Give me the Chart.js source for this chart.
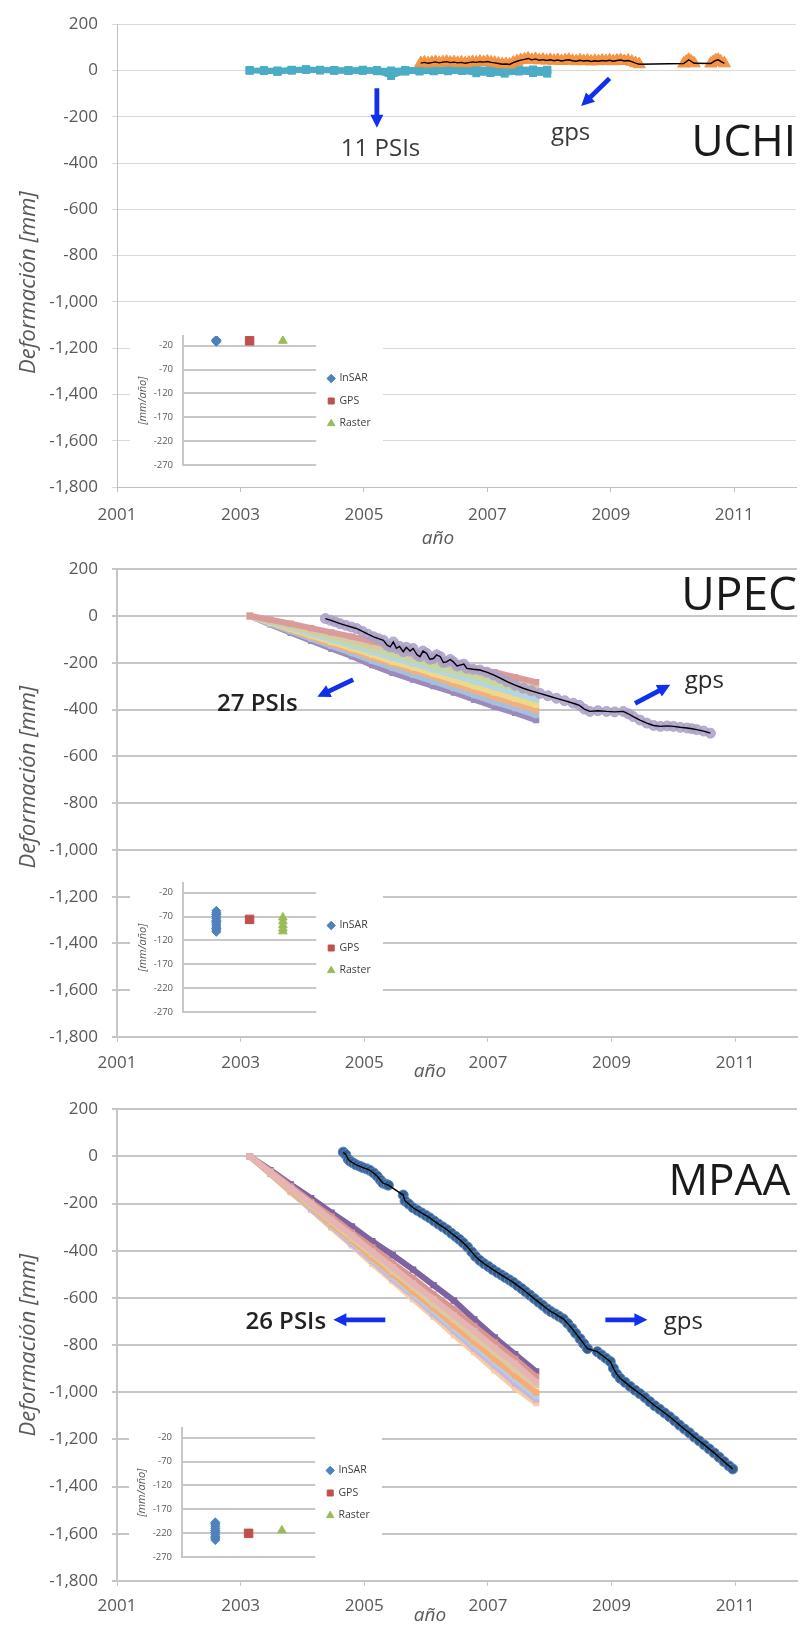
<!DOCTYPE html>
<html>
<head>
<meta charset="utf-8">
<script src="https://cdn.jsdelivr.net/npm/chart.js@4.4.1/dist/chart.umd.min.js"></script>
<style>
  html, body { margin: 0; padding: 0; background: #fff; }
  #page { position: relative; width: 804px; height: 1625px; overflow: hidden; background: #fff; }
  .panel { position: absolute; left: 0; width: 804px; }
  .panel canvas, .inset canvas { display: block; }
  .inset { position: absolute; width: 253px; height: 166px; background: #fff; }
</style>
</head>
<body>
<div id="page">
  <div class="panel" style="top:0;height:545px"><canvas id="cUchi" width="804" height="545"></canvas></div>
  <div class="panel" style="top:545px;height:540px"><canvas id="cUpec" width="804" height="540"></canvas></div>
  <div class="panel" style="top:1085px;height:540px"><canvas id="cMpaa" width="804" height="540"></canvas></div>
  <div class="inset" style="left:130px;top:315px"><canvas id="iUchi" width="253" height="166"></canvas></div>
  <div class="inset" style="left:130px;top:862px"><canvas id="iUpec" width="253" height="166"></canvas></div>
  <div class="inset" style="left:129px;top:1407px"><canvas id="iMpaa" width="253" height="166"></canvas></div>
</div>
<script>
// ---- axis ticks -------------------------------------------------------
const yearTicks = [2001, 2003, 2005, 2007, 2009, 2011];
const rateTicks = [-270, -220, -170, -120, -70, -20];

// ---- UCHI: PSI time series (mm) ---------------------------------------
const uchiPsiDates = [2003.15, 2003.38, 2003.60, 2003.83, 2004.06, 2004.29, 2004.52, 2004.75, 2004.98, 2005.21, 2005.44,
                      2005.67, 2005.90, 2006.13, 2006.36, 2006.59, 2006.82, 2007.05, 2007.28, 2007.51, 2007.74, 2007.97];
const uchiPsi = [
  [0, -2, -5, 2, 4, 1, 0, -1, 1, 0, -3, 0, 2, 1, 0, 2, 1, 3, 2, 1, 3, 2],
  [0, 1, -3, 4, 6, 3, 2, 1, 0, -2, -24, -4, -1, -2, 0, -1, -3, -2, -1, -2, 0, -1],
  [0, -1, -6, 1, 3, 2, -1, -3, -2, -4, -6, -5, -3, -4, -2, -3, -12, -11, -13, -5, -10, -12],
  [0, 2, 0, 3, 5, 4, 3, 2, 4, 2, 0, 3, 4, 3, 5, 4, 6, 5, 4, 6, 5, 4],
  [0, -3, -4, -1, 2, 0, -2, -2, -1, -3, -8, -2, -5, -3, -4, -2, -4, -10, -12, -3, -11, -13],
  [0, 0, -2, 1, 3, 1, 1, 0, 2, 1, -2, 1, 0, -1, 1, 0, 1, 0, -1, 0, 2, 1]
];
// ---- UCHI: GPS (mm) ---------------------------------------------------
const uchiGpsYears = [2005.92, 2005.98, 2006.04, 2006.10, 2006.16, 2006.22, 2006.28, 2006.34, 2006.40, 2006.46, 2006.52,
  2006.58, 2006.64, 2006.70, 2006.76, 2006.82, 2006.88, 2006.94, 2007.00, 2007.06, 2007.12, 2007.18, 2007.24, 2007.30,
  2007.36, 2007.42, 2007.48, 2007.54, 2007.60, 2007.66, 2007.72, 2007.78, 2007.84, 2007.90, 2007.96, 2008.02, 2008.08,
  2008.14, 2008.20, 2008.26, 2008.32, 2008.38, 2008.44, 2008.50, 2008.56, 2008.62, 2008.68, 2008.74, 2008.80, 2008.86,
  2008.92, 2008.98, 2009.04, 2009.10, 2009.16, 2009.22, 2009.28, 2009.34, 2009.40, 2009.46,
  2010.18, 2010.22, 2010.26, 2010.30, 2010.35,
  2010.62, 2010.66, 2010.70, 2010.74, 2010.78, 2010.84];
const uchiGpsMm = [32, 35, 31, 34, 37, 33, 36, 38, 34, 36, 33,
  35, 31, 34, 37, 35, 38, 36, 39, 35, 33, 30, 27, 28,
  26, 34, 40, 45, 48, 52, 46, 50, 44, 47, 43, 46, 42,
  45, 41, 44, 46, 42, 40, 44, 41, 43, 39, 42, 40, 43,
  41, 44, 40, 43, 45, 41, 43, 38, 32, 27,
  30, 38, 46, 40, 31,
  30, 37, 44, 46, 39, 31];
// ---- UCHI: velocities (mm/año) ----------------------------------------
const uchiRateInsar = [-8, -10, -12, -9];
const uchiRateGps = [-10];
const uchiRateRaster = [-10];

// ---- UPEC / MPAA: PSI acquisition dates -------------------------------
const psiDates = [2003.15, 2003.48, 2003.81, 2004.14, 2004.47, 2004.80, 2005.13, 2005.46, 2005.79, 2006.12, 2006.45,
                  2006.78, 2007.11, 2007.44, 2007.78];
// ---- UPEC: PSI time series (mm) ---------------------------------------
const upecPsi = [
  [0, -16, -33, -52, -70, -88, -108, -130, -152, -178, -202, -226, -240, -262, -283],
  [0, -21, -40, -62, -82, -104, -126, -147, -171, -193, -216, -240, -262, -285, -309],
  [0, -23, -46, -69, -92, -116, -139, -163, -187, -214, -236, -258, -286, -307, -333],
  [0, -26, -51, -77, -101, -127, -152, -178, -203, -228, -253, -279, -304, -330, -356],
  [0, -28, -55, -83, -110, -137, -165, -195, -219, -246, -273, -300, -327, -353, -380],
  [0, -30, -59, -89, -118, -147, -177, -205, -233, -258, -290, -318, -347, -374, -402],
  [0, -33, -65, -97, -128, -159, -192, -222, -252, -280, -308, -338, -368, -394, -424],
  [0, -36, -72, -106, -140, -172, -210, -243, -272, -300, -327, -358, -388, -414, -445]
];
// ---- UPEC: GPS (mm) ---------------------------------------------------
const upecGpsYears = [2004.37, 2004.45, 2004.53, 2004.61, 2004.70, 2004.79, 2004.88, 2004.97, 2005.06, 2005.15, 2005.23,
  2005.31, 2005.37, 2005.42, 2005.47, 2005.52, 2005.57, 2005.63, 2005.68, 2005.74, 2005.79, 2005.85, 2005.90, 2005.95,
  2006.01, 2006.06, 2006.12, 2006.17, 2006.23, 2006.28, 2006.33, 2006.39, 2006.44, 2006.50, 2006.55, 2006.61, 2006.66,
  2006.76, 2006.87, 2006.98, 2007.09, 2007.20, 2007.31, 2007.44, 2007.57, 2007.70, 2007.84, 2007.97, 2008.11, 2008.24,
  2008.38, 2008.48, 2008.56, 2008.65, 2008.78, 2008.92, 2009.05, 2009.19, 2009.27, 2009.35, 2009.46, 2009.57, 2009.68,
  2009.79, 2009.90, 2010.00, 2010.11, 2010.22, 2010.30, 2010.38, 2010.49, 2010.60];
const upecGpsMm = [-11, -18, -25, -33, -40, -47, -54, -66, -78, -89, -97,
  -104, -125, -132, -111, -138, -130, -153, -134, -150, -139, -165, -174, -150,
  -160, -185, -182, -166, -174, -199, -196, -186, -196, -214, -210, -206, -224,
  -228, -231, -240, -252, -266, -281, -296, -309, -320, -331, -341, -352, -362,
  -373, -382, -398, -408, -405, -408, -410, -408, -418, -430, -445, -458, -468,
  -472, -470, -472, -476, -479, -482, -486, -492, -501];
// ---- UPEC: velocities (mm/año) ----------------------------------------
const upecRateInsar = [-58, -62, -66, -70, -74, -78, -82, -86, -90, -94, -98, -102, -65, -80, -95];
const upecRateGps = [-76];
const upecRateRaster = [-72, -80, -88, -95, -101];

// ---- MPAA: PSI time series (mm) ---------------------------------------
const mpaaPsi = [
  [0, -67, -135, -200, -269, -335, -404, -470, -539, -605, -674, -741, -813, -879, -956],
  [0, -63, -127, -194, -256, -323, -386, -453, -516, -585, -649, -720, -789, -859, -934],
  [0, -69, -137, -208, -276, -347, -414, -486, -553, -625, -692, -764, -831, -903, -971],
  [0, -71, -144, -213, -287, -356, -430, -499, -573, -642, -716, -786, -859, -929, -1001],
  [0, -72, -146, -217, -292, -362, -437, -508, -583, -653, -728, -799, -873, -944, -1016],
  [0, -74, -147, -223, -295, -371, -443, -519, -591, -667, -739, -815, -887, -963, -1031],
  [0, -75, -152, -225, -303, -377, -454, -528, -605, -679, -756, -830, -907, -980, -1046],
  [0, -58, -119, -177, -239, -297, -360, -418, -480, -546, -611, -691, -768, -839, -912]
];
// ---- MPAA: GPS (mm) ---------------------------------------------------
const mpaaGpsYears = [2004.66, 2004.70, 2004.74, 2004.77, 2004.82, 2004.87, 2004.93, 2004.98, 2005.04, 2005.09, 2005.15,
  2005.21, 2005.26, 2005.30, 2005.35, 2005.39, 2005.63, 2005.66, 2005.72, 2005.79, 2005.86, 2005.93, 2006.00, 2006.06,
  2006.13, 2006.20, 2006.27, 2006.34, 2006.41, 2006.48, 2006.54, 2006.60, 2006.67, 2006.74, 2006.80, 2006.87, 2006.94,
  2007.01, 2007.08, 2007.15, 2007.22, 2007.28, 2007.35, 2007.41, 2007.48, 2007.55, 2007.61, 2007.68, 2007.75, 2007.82,
  2007.89, 2007.96, 2008.02, 2008.09, 2008.15, 2008.22, 2008.29, 2008.36, 2008.42, 2008.49, 2008.55, 2008.61, 2008.77,
  2008.84, 2008.91, 2008.98, 2009.03, 2009.08, 2009.14, 2009.22, 2009.30, 2009.38, 2009.46, 2009.54, 2009.62, 2009.70,
  2009.78, 2009.86, 2009.94, 2010.02, 2010.10, 2010.18, 2010.26, 2010.34, 2010.42, 2010.50, 2010.58, 2010.66, 2010.74,
  2010.82, 2010.90, 2010.96];
const mpaaGpsMm = [18, 8, -12, -20, -28, -36, -42, -48, -53, -59, -70,
  -84, -100, -113, -118, -122, -164, -189, -202, -218, -229, -240, -251, -261,
  -274, -287, -299, -311, -326, -340, -352, -366, -384, -405, -424, -441, -455,
  -467, -480, -492, -503, -513, -524, -534, -548, -561, -574, -588, -603, -618,
  -632, -647, -658, -668, -678, -689, -708, -729, -750, -773, -794, -815, -828,
  -842, -856, -870, -898, -922, -941, -958, -975, -991, -1006, -1022, -1040, -1057,
  -1072, -1088, -1104, -1121, -1139, -1156, -1172, -1190, -1206, -1223, -1240, -1257, -1275,
  -1294, -1312, -1325];
// ---- MPAA: velocities (mm/año) ----------------------------------------
const mpaaRateInsar = [-197, -202, -206, -210, -214, -218, -222, -226, -230, -234, -200, -215, -228];
const mpaaRateGps = [-220];
const mpaaRateRaster = [-214];

// ---- styles -----------------------------------------------------------
const FONT = "'Open Sans', 'DejaVu Sans', sans-serif";
Chart.defaults.font.family = FONT;
const tickGrey = '#595959';
const upecPsiColors = ['#da9c9a', '#d6c9a3', '#c5d89e', '#b3d5e5', '#eed98a', '#f2b07f', '#a6bfdd', '#9d8abd'];
const mpaaPsiColors = ['#e6b5b3', '#d9958f', '#dccaa6', '#f7ad72', '#b7cce6', '#c6b7db', '#f9cda4', '#7e63a0'];

const pts = (xs, ys) => xs.map((x, i) => ({ x, y: ys[i] }));

// Annotations, arrows and axis titles drawn on the main charts
const notesPlugin = {
  id: 'notes',
  afterDatasetsDraw(chart, args, o) {
    if (!o || (!o.texts && !o.arrows)) return;
    const { ctx } = chart;
    const sx = chart.scales.x, sy = chart.scales.y;
    ctx.save();
    for (const a of o.arrows || []) {
      const x1 = sx.getPixelForValue(a.from[0]), y1 = sy.getPixelForValue(a.from[1]);
      const x2 = sx.getPixelForValue(a.to[0]), y2 = sy.getPixelForValue(a.to[1]);
      const ang = Math.atan2(y2 - y1, x2 - x1), len = Math.hypot(x2 - x1, y2 - y1);
      const hl = 13, hw = 6.5, sw = 2.4;
      ctx.save();
      ctx.translate(x1, y1);
      ctx.rotate(ang);
      ctx.beginPath();
      ctx.moveTo(0, -sw); ctx.lineTo(len - hl, -sw); ctx.lineTo(len - hl, -hw);
      ctx.lineTo(len, 0); ctx.lineTo(len - hl, hw); ctx.lineTo(len - hl, sw); ctx.lineTo(0, sw);
      ctx.closePath();
      ctx.fillStyle = '#1030ee';
      ctx.fill();
      ctx.restore();
    }
    for (const t of o.texts || []) {
      ctx.font = `${t.weight || 400} ${t.size}px ${FONT}`;
      ctx.fillStyle = t.color || '#333';
      ctx.textAlign = t.align || 'center';
      ctx.textBaseline = 'alphabetic';
      ctx.fillText(t.text, sx.getPixelForValue(t.x), sy.getPixelForValue(t.y));
    }
    ctx.restore();
  },
  afterDraw(chart, args, o) {
    if (!o || !o.yTitle) return;
    const { ctx, chartArea } = chart;
    ctx.save();
    ctx.fillStyle = tickGrey;
    ctx.textAlign = 'center';
    ctx.textBaseline = 'middle';
    ctx.font = `italic 22px ${FONT}`;
    ctx.translate(29, (chartArea.top + chartArea.bottom) / 2 + o.yTitle.shift);
    ctx.rotate(-Math.PI / 2);
    ctx.fillText(o.yTitle.text, 0, 0);
    ctx.restore();
    ctx.save();
    ctx.fillStyle = tickGrey;
    ctx.textAlign = 'center';
    ctx.textBaseline = 'middle';
    ctx.font = `italic 19px ${FONT}`;
    ctx.fillText(o.xTitle.text, chartArea.left + o.xTitle.dx, chartArea.bottom + o.xTitle.dy);
    ctx.restore();
  }
};
Chart.register(notesPlugin);

function psiDataset(xs, ys, color, width, radius) {
  return {
    data: pts(xs, ys), borderColor: color, backgroundColor: color, borderWidth: width,
    pointStyle: 'rect', pointRadius: radius, pointBorderWidth: 0, pointBackgroundColor: color, tension: 0
  };
}
function gpsMarkers(xs, ys, style, color, edge, radius) {
  return {
    data: pts(xs, ys), showLine: false, pointStyle: style, pointRadius: radius,
    pointBackgroundColor: color, pointBorderColor: edge, pointBorderWidth: 1
  };
}
function gpsLine(xs, ys) {
  return { data: pts(xs, ys), borderColor: '#000', borderWidth: 1.4, pointRadius: 0, tension: 0 };
}

function mainOptions(c) {
  return {
    responsive: false, animation: false, events: [],
    layout: { padding: { left: 0, right: 7, top: c.top, bottom: 0 } },
    plugins: { legend: { display: false }, tooltip: { enabled: false }, notes: c.notes },
    scales: {
      x: {
        type: 'linear', min: 2001, max: 2012,
        afterBuildTicks: a => { a.ticks = yearTicks.map(v => ({ value: v })); },
        afterFit: s => { s.height = c.xh; },
        grid: { drawOnChartArea: false, drawTicks: true, tickLength: 5, color: c.axis, lineWidth: 1 },
        border: { display: true, color: c.axis, width: c.gw },
        ticks: { padding: c.xpad, color: tickGrey, font: { size: 17 }, maxRotation: 0, autoSkip: false,
                 callback: v => String(v) }
      },
      y: {
        min: -1800, max: 200,
        ticks: { stepSize: 200, padding: 14, color: tickGrey, font: { size: 17 },
                 callback: v => Number(v).toLocaleString('en-US') },
        afterFit: s => { s.width = 117; },
        grid: { color: c.grid, lineWidth: c.gw, drawTicks: true, tickLength: 5 },
        border: { display: true, color: c.axis, width: c.gw }
      }
    }
  };
}

// ---- UCHI -------------------------------------------------------------
new Chart(document.getElementById('cUchi'), {
  type: 'line',
  data: {
    datasets: [
      gpsLine(uchiGpsYears, uchiGpsMm),
      gpsMarkers(uchiGpsYears, uchiGpsMm, 'triangle', '#f79646', '#f39040', 7),
      ...uchiPsi.map(r => psiDataset(uchiPsiDates, r, '#4bacc6', 5, 5.5))
    ]
  },
  options: mainOptions({
    top: 20, xh: 58, xpad: 13, gw: 1, grid: '#d9d9d9', axis: '#bfbfbf',
    notes: {
      yTitle: { text: 'Deformación [mm]', shift: 27 },
      xTitle: { text: 'año', dx: 321, dy: 52 },
      texts: [
        { text: '11 PSIs', x: 2005.27, y: -368, size: 24, color: '#3a3a3a' },
        { text: 'gps', x: 2008.35, y: -300, size: 24, color: '#3a3a3a' },
        { text: 'UCHI', x: 2012, y: -368, size: 44, align: 'right', color: '#1a1a1a' }
      ],
      arrows: [
        { from: [2005.21, -77], to: [2005.21, -248] },
        { from: [2008.98, -34], to: [2008.52, -154] }
      ]
    }
  })
});

// ---- UPEC -------------------------------------------------------------
new Chart(document.getElementById('cUpec'), {
  type: 'line',
  data: {
    datasets: [
      gpsLine(upecGpsYears, upecGpsMm),
      gpsMarkers(upecGpsYears, upecGpsMm, 'circle', 'rgba(172,160,200,0.85)', 'rgba(172,160,200,0.85)', 5),
      ...upecPsi.map((r, i) => psiDataset(psiDates, r, upecPsiColors[i], 6, 4.5))
    ]
  },
  options: mainOptions({
    top: 22, xh: 48, xpad: 11, gw: 2, grid: '#c6c6c6', axis: '#c6c6c6',
    notes: {
      yTitle: { text: 'Deformación [mm]', shift: -26 },
      xTitle: { text: 'año', dx: 313, dy: 35 },
      texts: [
        { text: 'UPEC', x: 2012, y: 26, size: 46, align: 'right', color: '#1a1a1a' },
        { text: '27 PSIs', x: 2003.27, y: -408, size: 24, weight: 600, color: '#222' },
        { text: 'gps', x: 2010.5, y: -306, size: 24, color: '#2a2a2a' }
      ],
      arrows: [
        { from: [2004.82, -272], to: [2004.24, -345] },
        { from: [2009.38, -374], to: [2009.95, -294] }
      ]
    }
  })
});

// ---- MPAA -------------------------------------------------------------
new Chart(document.getElementById('cMpaa'), {
  type: 'line',
  data: {
    datasets: [
      gpsLine(mpaaGpsYears, mpaaGpsMm),
      gpsMarkers(mpaaGpsYears, mpaaGpsMm, 'circle', '#35608f', '#5a86bb', 5),
      ...mpaaPsi.map((r, i) => psiDataset(psiDates, r, mpaaPsiColors[i], 6, 4.5))
    ]
  },
  options: mainOptions({
    top: 20, xh: 44, xpad: 10, gw: 2, grid: '#c6c6c6', axis: '#c6c6c6',
    notes: {
      yTitle: { text: 'Deformación [mm]', shift: 0 },
      xTitle: { text: 'año', dx: 313, dy: 35 },
      texts: [
        { text: 'MPAA', x: 2011.89, y: -164, size: 44, align: 'right', color: '#1a1a1a' },
        { text: '26 PSIs', x: 2003.73, y: -731, size: 24, weight: 600, color: '#222' },
        { text: 'gps', x: 2010.16, y: -731, size: 24, color: '#2a2a2a' }
      ],
      arrows: [
        { from: [2005.34, -693], to: [2004.5, -693] },
        { from: [2008.9, -693], to: [2009.58, -693] }
      ]
    }
  })
});

// ---- velocity insets --------------------------------------------------
function inset(id, insar, gps, raster) {
  const chart = new Chart(document.getElementById(id), {
    type: 'scatter',
    data: {
      datasets: [
        { label: 'InSAR', data: insar.map(v => ({ x: 1, y: v })), pointStyle: 'rectRot', pointRadius: 4.5,
          backgroundColor: '#4f81bd', borderColor: '#4f81bd' },
        { label: 'GPS', data: gps.map(v => ({ x: 2, y: v })), pointStyle: 'rect', pointRadius: 6,
          backgroundColor: '#c0504d', borderColor: '#c0504d' },
        { label: 'Raster', data: raster.map(v => ({ x: 3, y: v })), pointStyle: 'triangle', pointRadius: 5,
          backgroundColor: '#9bbb59', borderColor: '#9bbb59' }
      ]
    },
    options: {
      responsive: false, animation: false, events: [],
      layout: { padding: { left: 0, right: 0, top: 21, bottom: 15 } },
      plugins: {
        tooltip: { enabled: false },
        legend: {
          position: 'right',
          labels: { usePointStyle: true, boxWidth: 6, boxHeight: 6, padding: 12, color: '#404040',
                    font: { size: 10.5 } }
        }
      },
      scales: {
        x: { type: 'linear', min: 0, max: 4, display: false },
        y: {
          min: -270, max: 0,
          afterBuildTicks: a => { a.ticks = rateTicks.map(v => ({ value: v })); },
          afterFit: s => { s.width = 53; },
          grid: { color: '#c8c8c8', lineWidth: 2, drawTicks: false },
          border: { display: true, color: '#c8c8c8', width: 2 },
          ticks: { padding: 10, color: tickGrey, font: { size: 9.5 } },
          title: { display: true, text: '[mm/año]', color: tickGrey, font: { size: 11, style: 'italic' },
                   padding: { top: 6, bottom: 0 } }
        }
      }
    }
  });
  const d = chart.chartArea.right - 185;
  if (Math.abs(d) > 0.5) {
    chart.options.layout.padding.right = d;
    chart.update();
  }
  return chart;
}
inset('iUchi', uchiRateInsar, uchiRateGps, uchiRateRaster);
inset('iUpec', upecRateInsar, upecRateGps, upecRateRaster);
inset('iMpaa', mpaaRateInsar, mpaaRateGps, mpaaRateRaster);
</script>
</body>
</html>
